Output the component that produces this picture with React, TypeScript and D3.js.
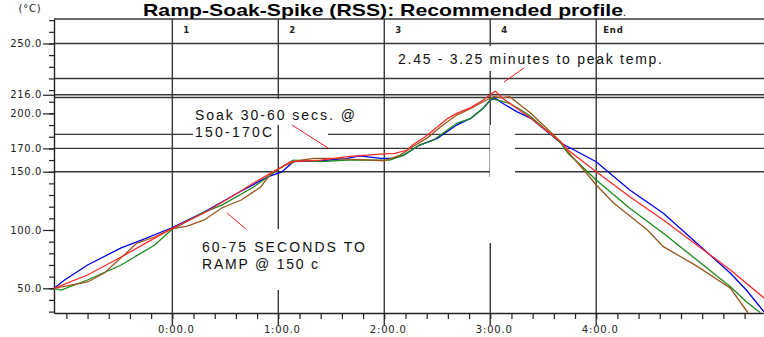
import React, { useEffect, useRef } from "react";
import * as d3 from "d3";

const W = 764;
const H = 337;

// [seconds from zone 1 start, temperature °C]
const blueProfile: [number, number][] = [
  [-67, 50], [-61, 57.1], [-48, 70], [-29, 84.6], [-17.5, 91.4], [-0.6, 101.7], [18, 115.4],
  [37, 131.7], [54, 145.5], [62, 149.8], [68.5, 158.6], [84, 159.4], [99, 161.5], [106, 163.5],
  [118, 161.5], [125, 161.5], [131, 164.3], [140, 172.9], [150, 178.6], [161, 190], [169, 195.8],
  [176, 204.4], [180, 211.5], [183, 212.9], [187, 208.7], [195, 201.5], [203, 195.8], [220, 174.6],
  [224, 171.4], [240, 158.6], [259, 134.3], [278, 114.3], [297, 88.6], [316, 62.9], [325, 48.5],
  [335, 29.9],
];

const redProfile: [number, number][] = [
  [-67, 50], [-48, 61.4], [-29, 76.8], [-10, 93], [-0.6, 101], [18, 114.6], [37, 131.7],
  [46, 140.3], [56, 149], [62, 154], [67, 158.6], [84, 160], [99, 162.9], [110, 164.3],
  [120, 165.3], [126, 165.8], [133, 168.6], [136, 172.9], [143, 179.7], [156, 195.8], [161, 200],
  [169, 205], [176, 211.5], [181, 217.2], [183, 219], [187, 213], [195, 204.4], [203, 195.8],
  [220, 175.5], [224, 168.6], [240, 150], [259, 128.6], [278, 108.6], [297, 87.1], [316, 65.7],
  [335, 41.7],
];

const greenProfile: [number, number][] = [
  [-67, 50], [-63, 48.5], [-48, 57.1], [-29, 70], [-10, 87.1], [-0.6, 100], [18, 115.4],
  [28, 121.4], [46, 136.9], [54, 145.5], [62, 154], [68.5, 160], [84, 158.6], [99, 160],
  [110, 160], [123, 160], [131, 164.3], [140, 172.9], [148, 177.2], [161, 191.5], [169, 195.8],
  [176, 204.4], [181, 212.9], [184, 211.5], [191, 208.7], [199, 201.5], [203, 197.2], [220, 174.6],
  [224, 165.8], [240, 142.9], [259, 118.6], [278, 97.2], [297, 74.3], [316, 51.4], [325, 38.5],
  [333, 29.1],
];

const brownProfile: [number, number][] = [
  [-67, 50], [-48, 55.4], [-38.5, 63.1], [-20, 88.8], [-10, 94], [-0.6, 100.9], [8.5, 103.4],
  [18, 108.6], [28, 118.9], [39, 125.7], [50, 136.9], [56, 148.9], [63, 154.9], [71, 159.4],
  [80, 161.5], [89, 161.5], [102.5, 160.6], [120, 159.4], [129, 164.3], [136, 171.4], [144, 178.6],
  [152, 188.6], [161, 198.6], [169, 204.4], [176, 210], [182, 214.3], [187, 213.5], [191, 214.3],
  [197, 207.2], [203, 200.1], [220, 175.5], [224, 167.2], [233, 151.5], [240, 138.6], [250, 122.9],
  [269, 100], [278, 85.7], [297, 69], [316, 50], [326, 28.8],
];

const yLabelValues = [50, 100, 150, 170, 200, 216, 260];
const yLabelText = ["50.0", "100.0", "150.0", "170.0", "200.0", "216.0", "250.0"];
const gridTemps = [281, 260, 230, 216, 213.7, 182, 170, 150];
const zoneTimes = [0, 60, 120, 180, 240];
const zoneNames = ["1", "2", "3", "4", "End"];
const timeLabels = ["0:00.0", "1:00.0", "2:00.0", "3:00.0", "4:00.0"];

const series = [
  { data: blueProfile, color: "#0000f0" },
  { data: greenProfile, color: "#1a8a1a" },
  { data: brownProfile, color: "#9a571d" },
  { data: redProfile, color: "#ff2a2a" },
];

const App: React.FC = () => {
  const ref = useRef<SVGSVGElement>(null);

  useEffect(() => {
    const svg = d3.select(ref.current);
    svg.selectAll("*").remove();

    const x = d3.scaleLinear().domain([-67, 335]).range([54, 764]);
    const y = d3.scaleLinear().domain([28.8, 281]).range([313, 19]);
    const grid = "#383838";
    const tickFont = "'DejaVu Sans', Verdana, sans-serif";
    const noteFont = "'Liberation Sans', Arial, sans-serif";

    svg.append("rect").attr("width", W).attr("height", H).attr("fill", "#fff");

    // horizontal rules
    svg
      .append("g")
      .selectAll("line")
      .data(gridTemps)
      .join("line")
      .attr("x1", 54)
      .attr("x2", W)
      .attr("y1", (d) => y(d))
      .attr("y2", (d) => y(d))
      .attr("stroke", grid)
      .attr("stroke-width", 1.4);

    // box behind second soak line
    svg.append("rect").attr("x", 193).attr("y", 125).attr("width", 135).attr("height", 16).attr("fill", "#fff");

    // zone separators
    svg
      .append("g")
      .selectAll("line")
      .data(zoneTimes)
      .join("line")
      .attr("x1", (d) => x(d))
      .attr("x2", (d) => x(d))
      .attr("y1", y(281))
      .attr("y2", 325)
      .attr("stroke", grid)
      .attr("stroke-width", 1.4);

    // axes
    const yMinor = svg
      .append("g")
      .attr("transform", "translate(54,0)")
      .call(d3.axisLeft(y).tickValues(d3.range(30, 290, 10)).tickSize(5).tickSizeOuter(0).tickFormat(() => ""));
    yMinor.select(".domain").attr("stroke", "#222").attr("stroke-width", 1.4);
    yMinor.selectAll(".tick line").attr("stroke", "#222").attr("stroke-width", 1.2);

    const yMajor = svg
      .append("g")
      .attr("transform", "translate(54,0)")
      .call(
        d3
          .axisLeft(y)
          .tickValues(yLabelValues)
          .tickSize(11)
          .tickPadding(1)
          .tickFormat((_d, i) => yLabelText[i])
      );
    yMajor.select(".domain").remove();
    yMajor.selectAll(".tick line").attr("stroke", "#222").attr("stroke-width", 1.2);
    yMajor
      .selectAll(".tick text")
      .attr("font-family", tickFont)
      .attr("font-size", 10)
      .attr("letter-spacing", 0.6)
      .attr("fill", "#222");

    const xAxis = svg
      .append("g")
      .attr("transform", "translate(0,313)")
      .call(d3.axisBottom(x).tickValues(d3.range(-60, 330, 12)).tickSize(6).tickSizeOuter(0).tickFormat(() => ""));
    xAxis.select(".domain").attr("stroke", "#222").attr("stroke-width", 1.4);
    xAxis.selectAll(".tick line").attr("stroke", "#222").attr("stroke-width", 1.2);

    svg
      .append("g")
      .selectAll("text")
      .data(zoneTimes)
      .join("text")
      .attr("x", (d) => x(d) + 4)
      .attr("y", 333)
      .attr("text-anchor", "middle")
      .attr("font-family", tickFont)
      .attr("font-size", 10)
      .attr("letter-spacing", 0.8)
      .attr("fill", "#222")
      .text((_d, i) => timeLabels[i]);

    // zone names in header band
    svg
      .append("g")
      .selectAll("text")
      .data(zoneTimes)
      .join("text")
      .attr("x", (d, i) => x(d) + (i === 4 ? 7 : 11))
      .attr("y", 33)
      .attr("font-family", tickFont)
      .attr("font-size", 8.5)
      .attr("font-weight", "bold")
      .attr("letter-spacing", 0.8)
      .attr("fill", "#222")
      .text((_d, i) => zoneNames[i]);

    // white label boxes
    const boxes = [
      [193, 99, 166, 26],
      [196, 229, 176, 61],
      [395, 46, 195, 25],
      [490, 125, 25, 52],
      [420, 177, 165, 66],
    ];
    svg
      .append("g")
      .selectAll("rect")
      .data(boxes)
      .join("rect")
      .attr("x", (d) => d[0])
      .attr("y", (d) => d[1])
      .attr("width", (d) => d[2])
      .attr("height", (d) => d[3])
      .attr("fill", "#fff");

    // profiles
    const line = d3
      .line<[number, number]>()
      .x((d) => x(d[0]))
      .y((d) => y(d[1]));
    svg
      .append("g")
      .selectAll("path")
      .data(series)
      .join("path")
      .attr("d", (d) => line(d.data))
      .attr("fill", "none")
      .attr("stroke", (d) => d.color)
      .attr("stroke-width", 1.3);

    // notes
    const notes = [
      { text: "Soak 30-60 secs. @", x: 195, y: 119.5, len: 160 },
      { text: "150-170C", x: 195, y: 136.5, len: 77 },
      { text: "60-75 SECONDS TO", x: 202, y: 251.5, len: 163 },
      { text: "RAMP @ 150 c", x: 202, y: 269, len: 116 },
      { text: "2.45 - 3.25 minutes to peak temp.", x: 398, y: 63.5, len: 264 },
    ];
    svg
      .append("g")
      .selectAll("text")
      .data(notes)
      .join("text")
      .attr("x", (d) => d.x)
      .attr("y", (d) => d.y)
      .attr("textLength", (d) => d.len)
      .attr("lengthAdjust", "spacing")
      .attr("font-family", noteFont)
      .attr("font-size", 14)
      .attr("fill", "#111")
      .text((d) => d.text);

    const pointers = [
      [292, 125, 328, 148],
      [227, 213, 246, 229],
      [524, 68, 504, 82],
    ];
    svg
      .append("g")
      .selectAll("line")
      .data(pointers)
      .join("line")
      .attr("x1", (d) => d[0])
      .attr("y1", (d) => d[1])
      .attr("x2", (d) => d[2])
      .attr("y2", (d) => d[3])
      .attr("stroke", "#ee1c1c")
      .attr("stroke-width", 1);

    // unit + title
    svg
      .append("text")
      .attr("x", 30)
      .attr("y", 12)
      .attr("text-anchor", "middle")
      .attr("font-family", tickFont)
      .attr("font-size", 10)
      .attr("letter-spacing", 0.8)
      .attr("fill", "#222")
      .text("(°C)");

    const title = svg
      .append("text")
      .attr("x", 143)
      .attr("y", 15.5)
      .attr("font-family", noteFont)
      .attr("font-size", 17)
      .attr("font-weight", "bold")
      .attr("fill", "#000");
    title.append("tspan").attr("textLength", 480).attr("lengthAdjust", "spacingAndGlyphs").text("Ramp-Soak-Spike (RSS): Recommended profile");
    title.append("tspan").attr("font-size", 11).attr("font-weight", "normal").text(".");
  }, []);

  return (
    <svg
      ref={ref}
      width={W}
      height={H}
      style={{ position: "absolute", left: 0, top: 0, display: "block" }}
    />
  );
};

export default App;
